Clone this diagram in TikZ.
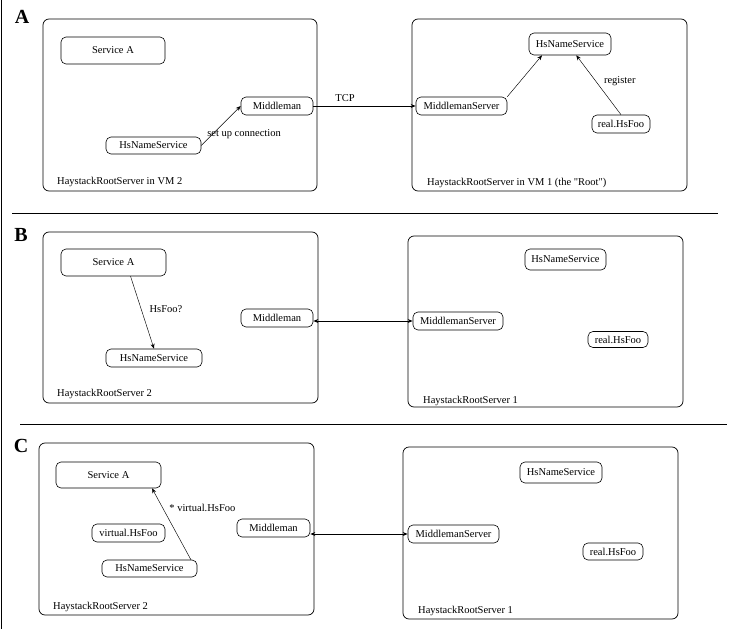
\documentclass[tikz,border=0pt]{standalone}
\usepackage{fontspec}
\setmainfont{Liberation Serif}
\usetikzlibrary{arrows.meta}
\tikzset{
    svc/.style={rectangle,draw,rounded corners=5pt,line width=0.6pt,inner sep=0pt,minimum height=18pt},
    host/.style={rectangle,draw,rounded corners=6pt,line width=0.7pt,inner sep=0pt},
    hostname/.style={anchor=west,inner sep=0pt},
    panel/.style={font=\fontsize{20}{22}\selectfont\bfseries,inner sep=0pt},
    arr/.style={-{Stealth[length=5pt,width=4pt]},line width=0.45pt},
    link/.style={{Stealth[length=5pt,width=4pt]}-{Stealth[length=5pt,width=4pt]},line width=0.9pt},
}

\begin{document}
\begin{tikzpicture}[x=1pt,y=-1pt,font=\fontsize{10.5}{12}\selectfont]
\useasboundingbox (0,0) rectangle (737,629);
\draw[line width=0.8pt] (1,0) -- (1,629);

% A
\node[panel] (pA) at (22,17) {A};
\node[host,minimum width=274pt,minimum height=172pt] (hostA2) at (180,105) {};
\node[host,minimum width=275pt,minimum height=172pt] (hostA1) at (549.5,105) {};
\node[svc,minimum width=104pt,minimum height=27pt] (svcA) at (113,50.5) {Service A};
\node[svc,minimum width=72pt] (mmA) at (277,106) {Middleman};
\node[svc,minimum width=95pt,minimum height=17pt] (nsA2) at (153.5,145.5) {HsNameService};
\node[svc,minimum width=82pt,minimum height=22pt] (nsA1) at (570,44) {HsNameService};
\node[svc,minimum width=91pt] (mmsA) at (461.5,106) {MiddlemanServer};
\node[svc,minimum width=58pt] (realA) at (621,124) {real.HsFoo};
\node[hostname] (lA2) at (57,182) {HaystackRootServer in VM 2};
\node[hostname] (lA1) at (427,183) {HaystackRootServer in VM 1 (the \textquotedbl Root\textquotedbl)};

\draw[arr] (nsA2.east) -- (mmA.west) node[pos=0.29,anchor=west,xshift=-9pt] {set up connection};
\draw[arr,line width=0.9pt] (mmA.east) -- node[pos=0.31,above=1pt] {TCP} (mmsA.west);
\draw[arr] (mmsA.north east) -- (nsA1.-158);
\draw[arr] (realA.north) -- node[pos=0.57,right=5pt] {register} (nsA1.-61);

\draw[line width=0.8pt] (12,213) -- (718,213);

% B
\node[panel] (pB) at (21,235) {B};
\node[host,minimum width=275pt,minimum height=171pt] (hostB2) at (180.5,317.5) {};
\node[host,minimum width=275pt,minimum height=171pt] (hostB1) at (545.5,321.5) {};
\node[svc,minimum width=105pt,minimum height=27pt] (svcB) at (113.5,262.5) {Service A};
\node[svc,minimum width=72pt] (mmB) at (277,318) {Middleman};
\node[svc,minimum width=96pt] (nsB2) at (154,358) {HsNameService};
\node[svc,minimum width=81pt,minimum height=21pt] (nsB1) at (565.5,259.5) {HsNameService};
\node[svc,minimum width=90pt] (mmsB) at (458,321) {MiddlemanServer};
\node[svc,minimum width=60pt,minimum height=16pt] (realB) at (618,339.5) {real.HsFoo};
\node[hostname] (lB2) at (57,394) {HaystackRootServer 2};
\node[hostname] (lB1) at (423,401) {HaystackRootServer 1};

\draw[arr] (svcB.-39) -- node[pos=0.45,right=5pt] {HsFoo?} (nsB2.north);
\draw[link] (mmB.east |- mmsB.west) -- (mmsB.west);

\draw[line width=0.8pt] (20,424) -- (727,424);

% C
\node[panel] (pC) at (21,446) {C};
\node[host,minimum width=275pt,minimum height=172pt] (hostC2) at (176.5,529) {};
\node[host,minimum width=275pt,minimum height=172pt] (hostC1) at (540.5,533) {};
\node[svc,minimum width=105pt,minimum height=26pt] (svcC) at (108.5,475) {Service A};
\node[svc,minimum width=73pt] (vfooC) at (128.5,533) {virtual.HsFoo};
\node[svc,minimum width=73pt] (mmC) at (273.5,528) {Middleman};
\node[svc,minimum width=95pt,minimum height=17pt] (nsC2) at (149.5,568.5) {HsNameService};
\node[svc,minimum width=82pt,minimum height=21pt] (nsC1) at (561,472.5) {HsNameService};
\node[svc,minimum width=91pt] (mmsC) at (453.5,534) {MiddlemanServer};
\node[svc,minimum width=60pt,minimum height=17pt] (realC) at (613,551.5) {real.HsFoo};
\node[hostname] (lC2) at (53,607) {HaystackRootServer 2};
\node[hostname] (lC1) at (418,611) {HaystackRootServer 1};

\draw[arr] (nsC2.12) -- node[pos=0.72,right=3pt] {* virtual.HsFoo} (svcC.-17);
\draw[link] (mmC.east |- mmsC.west) -- (mmsC.west);
\end{tikzpicture}
\end{document}
